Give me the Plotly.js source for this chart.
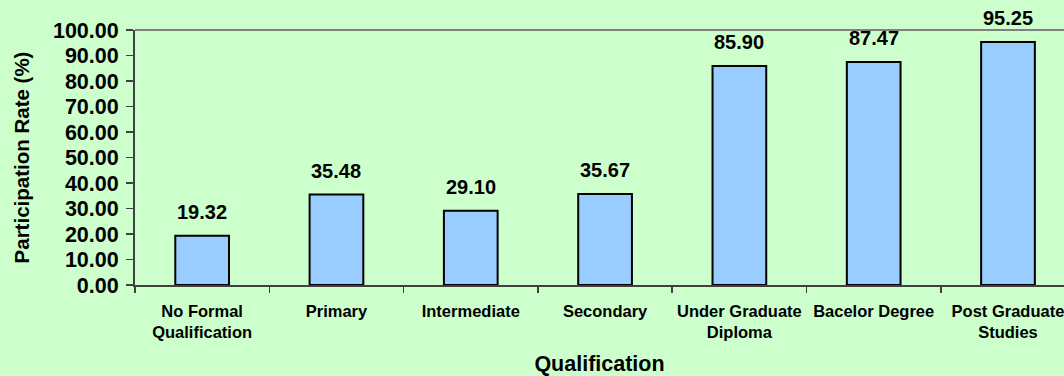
<!DOCTYPE html>
<html>
<head>
<meta charset="utf-8">
<script src="https://cdn.plot.ly/plotly-3.0.1.min.js"></script>
<style>
html,body{margin:0;padding:0;background:#CCFFCC;}
#chart{width:1064px;height:376px;}
</style>
</head>
<body>
<div id="chart"></div>
<script>
const categories = ["No Formal<br>Qualification", "Primary", "Intermediate", "Secondary", "Under Graduate<br>Diploma", "Bacelor Degree", "Post Graduate<br>Studies"];
const participationRate = [19.32, 35.48, 29.10, 35.67, 85.90, 87.47, 95.25];
const yTickValues = [0, 10, 20, 30, 40, 50, 60, 70, 80, 90, 100];

const FONT = '"Liberation Sans", Arial, sans-serif';

const trace = {
  type: 'bar',
  x: categories,
  y: participationRate,
  width: 0.4,
  marker: {color: '#99CCFF', line: {color: '#000000', width: 2}},
  hoverinfo: 'skip',
  cliponaxis: false
};

const annotations = categories.map((c, i) => ({
  x: c, y: participationRate[i], xref: 'x', yref: 'y',
  text: '<b>' + participationRate[i].toFixed(2) + '</b>',
  showarrow: false, yanchor: 'bottom', yshift: 11,
  font: {family: FONT, size: 20, color: '#000000'}
}));

const layout = {
  width: 1064, height: 376,
  paper_bgcolor: '#CCFFCC', plot_bgcolor: '#CCFFCC',
  margin: {l: 135, r: 0, t: 30, b: 91},
  showlegend: false,
  font: {family: FONT, color: '#000000'},
  xaxis: {
    type: 'category',
    range: [-0.5, 6.417],
    showgrid: false,
    showline: true, linecolor: '#404040', linewidth: 2,
    ticks: 'outside', ticklen: 6, tickcolor: '#404040', tickwidth: 1.5,
    tickson: 'boundaries',
    ticklabelstandoff: 10,
    tickfont: {family: FONT, size: 16.5, color: '#000000', weight: 'bold'},
    title: {text: '<b>Qualification</b>', font: {family: FONT, size: 21.5, color: '#000000'}, standoff: 21},
    zeroline: false, fixedrange: true
  },
  yaxis: {
    range: [0, 100],
    tickvals: yTickValues,
    ticktext: yTickValues.map(v => '<b>' + v.toFixed(2) + '</b>'),
    showgrid: false,
    showline: true, linecolor: '#404040', linewidth: 2,
    ticks: 'outside', ticklen: 7, tickcolor: '#404040', tickwidth: 1.5,
    ticklabelstandoff: 3,
    tickfont: {family: FONT, size: 21.5, color: '#000000'},
    title: {text: '<b>Participation Rate (%)</b>', font: {family: FONT, size: 20.5, color: '#000000'}, standoff: 18},
    zeroline: false, fixedrange: true
  },
  shapes: [{
    type: 'line', xref: 'paper', yref: 'paper', x0: 0, x1: 1, y0: 1, y1: 1,
    line: {color: '#808080', width: 2}
  }],
  annotations: annotations,
  bargap: 0.6
};

Plotly.newPlot('chart', [trace], layout, {displayModeBar: false, staticPlot: true});
</script>
</body>
</html>
